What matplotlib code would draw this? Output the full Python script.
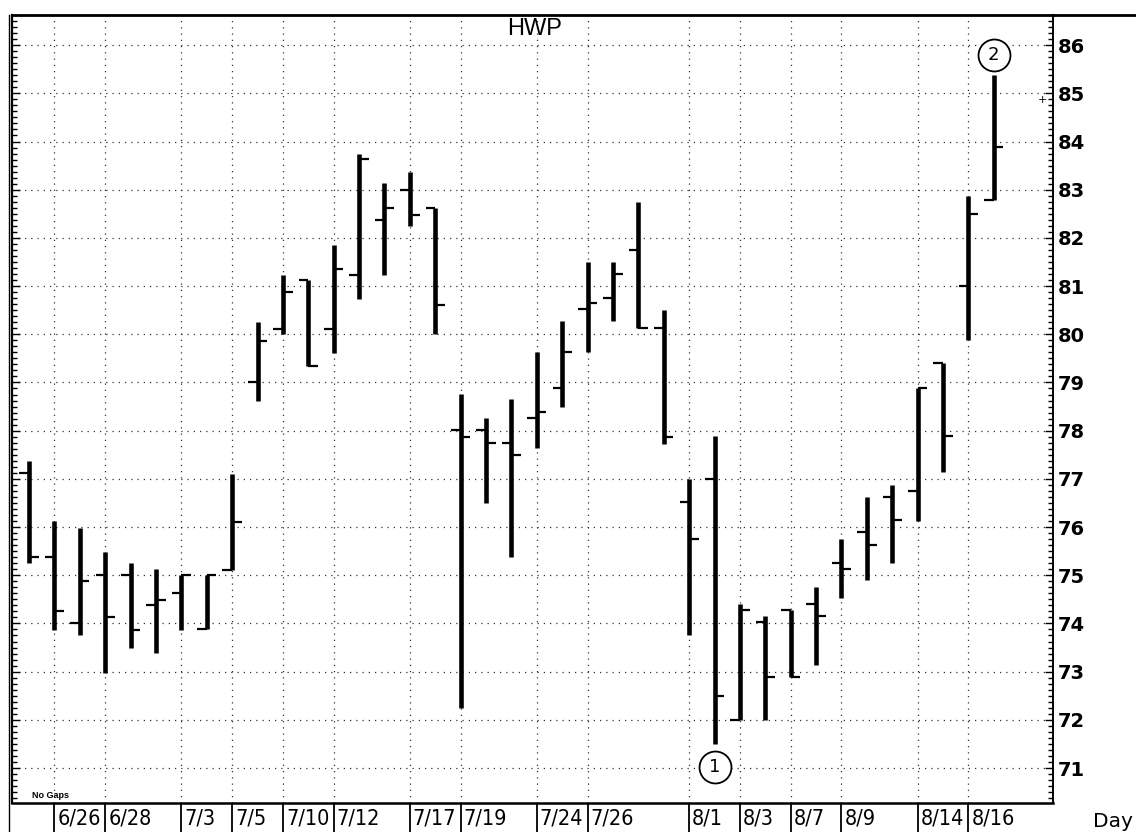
import matplotlib
matplotlib.use("Agg")
import matplotlib.pyplot as plt
import numpy as np
from matplotlib.lines import Line2D
from matplotlib.transforms import offset_copy
from matplotlib import font_manager as fm

# ---------------- data ----------------
opens = [77.13, 75.37, 74.0, 75.0, 75.0, 74.39, 74.63, 73.88, 75.1, 79.0,
         80.11, 81.12, 80.1, 81.24, 82.37, 83.0, 82.62, 78.02, 78.02, 77.75,
         78.27, 78.88, 80.52, 80.76, 81.74, 80.14, 76.52, 77.0, 72.0, 74.03,
         74.27, 74.4, 75.26, 75.89, 76.63, 76.75, 79.4, 81.01, 82.78]
highs = [77.37, 76.13, 75.99, 75.49, 75.25, 75.12, 75.0, 75.0, 77.11, 80.26,
         81.24, 81.12, 81.86, 83.75, 83.14, 83.37, 82.62, 78.77, 78.27, 78.65,
         79.63, 80.27, 81.5, 81.49, 82.75, 80.5, 77.0, 77.88, 74.4, 74.16,
         74.27, 74.76, 75.75, 76.63, 76.87, 78.89, 79.4, 82.87, 85.38]
lows = [75.25, 73.86, 73.75, 72.98, 73.5, 73.38, 73.86, 73.88, 75.1, 78.62,
        80.0, 79.35, 79.61, 80.73, 81.22, 82.24, 80.0, 72.24, 76.49, 75.37,
        77.64, 78.5, 79.64, 80.27, 80.14, 77.73, 73.76, 71.5, 71.99, 71.99,
        72.88, 73.13, 74.52, 74.9, 75.26, 76.13, 77.14, 79.89, 82.78]
closes = [75.37, 74.25, 74.88, 74.13, 73.86, 74.49, 75.0, 75.0, 76.11, 79.87,
          80.87, 79.35, 81.36, 83.63, 82.62, 82.47, 80.6, 77.87, 77.75, 77.5,
          78.38, 79.64, 80.65, 81.26, 80.14, 77.86, 75.75, 72.5, 74.27, 72.88,
          72.88, 74.15, 75.13, 75.63, 76.14, 78.88, 77.88, 82.5, 83.88]

date_labels = ["6/26", "6/28", "7/3", "7/5", "7/10", "7/12", "7/17", "7/19",
               "7/24", "7/26", "8/1", "8/3", "8/7", "8/9", "8/14", "8/16"]
label_bars = [1, 3, 6, 8, 10, 12, 15, 17, 20, 22, 26, 28, 30, 32, 35, 37]

price_ticks = list(range(71, 87))
title = "HWP"
annotations = [("1", 27, 71.02), ("2", 38, 85.80)]


# ---------------- pick a narrow font if one is installed ----------------
def find_narrow_font():
    best = None
    for f in fm.fontManager.ttflist:
        name = f.name.lower()
        fname = f.fname.lower()
        st = f.stretch
        narrow = ("narrow" in name or "condensed" in name or "narrow" in fname
                  or "condensed" in fname
                  or (isinstance(st, str) and "condensed" in st and "semi" not in st)
                  or (isinstance(st, (int, float)) and st < 500))
        if not narrow:
            continue
        if "italic" in fname or "oblique" in fname or f.style != "normal":
            continue
        if "semicondensed" in fname or "extracondensed" in fname or "ultracondensed" in fname:
            continue
        score = 0
        if "sans" in name or "sans" in fname:
            score += 2
        if f.weight in (400, "normal", "regular"):
            score += 2
        if "mono" in name or "serif" in name.replace("sans serif", ""):
            score -= 5
        if best is None or score > best[0]:
            best = (score, f.fname)
    return best[1] if best else None


narrow_path = find_narrow_font()
if narrow_path:
    date_font = fm.FontProperties(fname=narrow_path, size=15.5)
else:
    date_font = fm.FontProperties(family="DejaVu Sans", size=14)

# ---------------- figure ----------------
W, H = 1136, 832
fig = plt.figure(figsize=(W / 100, H / 100), dpi=100)
ax_l, ax_r, ax_t, ax_b = 12, 1053, 15, 803
ax = fig.add_axes([ax_l / W, (H - ax_b) / H, (ax_r - ax_l) / W, (ax_b - ax_t) / H])

x = np.arange(len(opens))
tick_len = 0.38

ax.vlines(x, lows, highs, color="black", linewidth=3.3, capstyle="butt", zorder=3)
ax.hlines(opens, x - tick_len, x, color="black", linewidth=1.6, zorder=3)
ax.hlines(closes, x, x + tick_len, color="black", linewidth=1.6, zorder=3)

ax.set_xlim(-0.67, 40.33)
ax.set_ylim(70.274, 86.622)

# y axis: ticks both sides pointing in, labels right
ax.set_yticks(price_ticks)
ax.set_yticks(np.arange(70.375, 86.63, 0.125), minor=True)
ax.tick_params(axis="y", which="both", direction="in", left=True, right=True,
               labelleft=False, labelright=True, width=1.0)
ax.tick_params(axis="y", which="major", length=6, pad=3.5, labelsize=14)
ax.tick_params(axis="y", which="minor", length=3.5)
for lab in ax.get_yticklabels():
    lab.set_fontweight("bold")
    lab.set_family("DejaVu Sans")

# x axis: separators below axis, labels as text
ax.set_xticks(label_bars)
ax.tick_params(axis="x", which="major", direction="out", length=21, width=1.3,
               labelbottom=False, bottom=True, top=False)
ax.set_xticks([], minor=True)

ax.grid(True, which="major", axis="both", color="#333333",
        linestyle=(0, (1, 4)), linewidth=0.9)

trans = offset_copy(ax.get_xaxis_transform(), fig=fig, x=3, y=-5, units="dots")
for b, lab in zip(label_bars, date_labels):
    ax.text(b, 0, lab, transform=trans, ha="left", va="top",
            fontproperties=date_font, clip_on=False)

for sp in ax.spines.values():
    sp.set_color("black")
ax.spines["top"].set_linewidth(2.0)
ax.spines["bottom"].set_linewidth(1.8)
ax.spines["left"].set_linewidth(1.6)
ax.spines["right"].set_linewidth(1.4)

# extra frame lines
fig.add_artist(Line2D([ax_r / W, 1.0], [1 - ax_t / H] * 2, transform=fig.transFigure,
                      color="black", linewidth=2.0))
fig.add_artist(Line2D([9 / W] * 2, [0, 1 - ax_t / H], transform=fig.transFigure,
                      color="black", linewidth=1.0))

# title and texts
ax.text(0.5024, 0.982, title, transform=ax.transAxes, ha="center", va="center",
        fontsize=17, family=["Liberation Sans", "DejaVu Sans"])
ax.text(0.0192, 0.006, "No Gaps", transform=ax.transAxes, ha="left", va="baseline",
        fontsize=6.5, fontweight="bold", family=["Liberation Sans", "DejaVu Sans"])
fig.text(1093 / W, 1 - 812 / H, "Day", ha="left", va="top", fontsize=14.5,
         family="DejaVu Sans")
ax.text(39.9, 84.86, "+", ha="center", va="center", fontsize=8, clip_on=False)

for num, xi, yi in annotations:
    ax.plot([xi], [yi], marker="o", markersize=23, markerfacecolor="white",
            markeredgecolor="black", markeredgewidth=1.3, zorder=4, clip_on=False)
    ax.text(xi, yi, num, ha="center", va="center", fontsize=13, zorder=5,
            family="DejaVu Sans")

fig.savefig("out.png", dpi=100)
